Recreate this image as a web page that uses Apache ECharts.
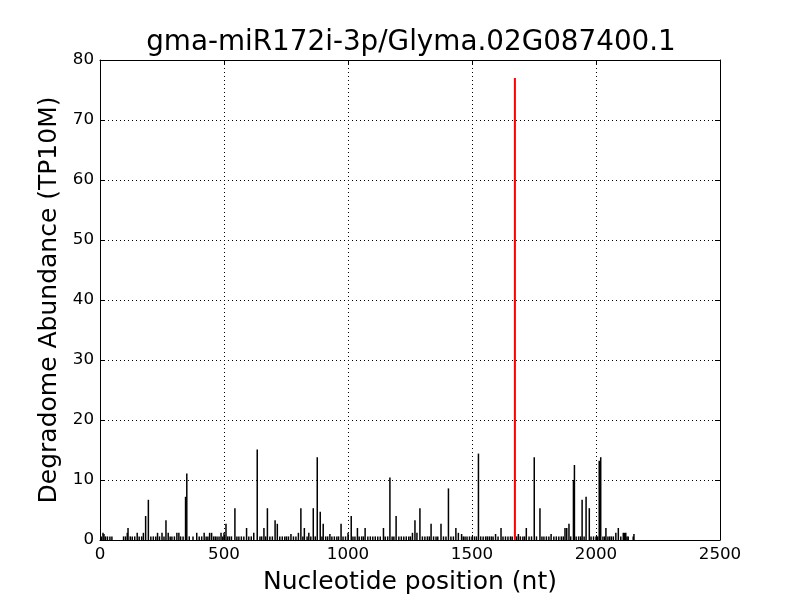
<!DOCTYPE html>
<html>
<head>
<meta charset="utf-8">
<script src="https://cdn.jsdelivr.net/npm/echarts@6/dist/echarts.min.js"></script>
<style>html,body{margin:0;padding:0;background:#fff}#c{width:800px;height:600px}</style>
</head>
<body>
<div id="c"></div>
<script>
const chartTitle = 'gma-miR172i-3p/Glyma.02G087400.1';
const xTicks = [0, 500, 1000, 1500, 2000, 2500];
const yTicks = [0, 10, 20, 30, 40, 50, 60, 70, 80];

// [position (nt), abundance (TP10M)] for the ordinary degradome peaks
const blackBars = [
  [5,0.6],[12,1.2],[16,1],[22,0.6],[30,0.6],[40,0.6],[48,0.6],
  [95,0.6],[103,0.6],[110,1.2],[113,2],[122,0.6],[130,0.6],[140,0.6],[150,1.2],[158,0.6],[168,0.6],[175,1.2],
  [184,4],[195,6.7],[205,0.6],[215,0.6],[225,0.6],[232,1.2],[240,0.6],[250,1.2],[258,0.6],[266,3.3],[275,1.2],
  [283,0.6],[290,0.6],[300,0.6],[310,1.2],[318,1.2],[325,0.6],[335,0.6],[345,7.2],[350,11.1],[360,0.6],
  [375,0.6],[390,1.2],[400,0.6],[410,0.6],[420,1.2],[428,0.6],[435,0.6],[442,1.2],[450,1.2],[458,0.6],
  [465,0.6],[472,0.6],[480,0.6],[488,1.2],[495,0.6],[500,1.2],[508,2.7],[515,0.6],[522,0.6],[530,0.6],
  [544,5.3],[552,0.6],[560,0.6],[570,0.6],[580,0.6],[591,2],[600,0.6],[610,0.6],[620,1.2],[634,15.1],
  [645,0.6],[652,0.6],[661,2],[668,0.6],[675,5.3],[685,0.6],[695,0.6],[706,3.3],[715,2.7],[725,0.6],
  [735,0.6],[745,0.6],[752,0.6],[760,0.6],[770,1],[780,0.6],[790,0.6],[800,1.2],[810,5.3],[818,0.6],
  [824,2],[835,0.6],[842,1.2],[850,0.6],[860,5.3],[868,0.6],[876,13.8],[888,4.7],[895,0.6],[900,2.7],
  [910,0.6],[918,0.6],[927,1],[935,0.6],[945,0.6],[955,0.6],[962,0.6],[972,2.7],[980,0.6],[990,0.6],
  [1000,1.2],[1013,4],[1020,0.6],[1028,0.6],[1038,2],[1045,0.6],[1055,0.6],[1062,0.6],[1069,2],[1080,0.6],
  [1090,0.6],[1100,0.6],[1110,0.6],[1120,0.6],[1130,0.6],[1143,2],[1150,0.6],[1160,0.6],[1169,10.4],
  [1178,0.6],[1185,0.6],[1194,4],[1205,0.6],[1215,0.6],[1225,0.6],[1235,0.6],[1245,0.6],[1252,0.6],
  [1260,1.2],[1270,3.3],[1278,1.2],[1290,5.3],[1300,0.6],[1310,0.6],[1320,0.6],[1328,0.6],[1335,2.7],
  [1345,0.6],[1355,0.6],[1362,0.6],[1375,2.7],[1385,0.6],[1395,0.6],[1405,8.6],[1415,0.6],[1425,0.6],
  [1435,2],[1445,1.2],[1458,1],[1465,0.6],[1472,0.6],[1480,0.6],[1490,0.6],[1500,0.6],[1510,0.6],
  [1518,0.6],[1526,14.4],[1535,0.6],[1545,0.6],[1555,0.6],[1562,0.6],[1570,0.6],[1578,0.6],[1585,0.6],
  [1595,1],[1605,0.6],[1617,2],[1625,0.6],[1635,0.6],[1645,0.6],[1655,0.6],[1662,0.6],[1680,0.6],
  [1687,1],[1695,0.6],[1705,0.6],[1712,0.6],[1719,2],[1730,0.6],[1740,0.6],[1751,13.8],[1760,0.6],
  [1774,5.3],[1782,0.6],[1790,0.6],[1800,0.6],[1810,0.6],[1819,1],[1830,0.6],[1840,0.6],[1850,0.6],
  [1860,0.6],[1868,0.6],[1875,2],[1882,2],[1891,2.7],[1898,0.6],[1909,10],[1913,12.5],[1920,0.6],
  [1930,0.6],[1938,0.6],[1944,6.7],[1952,0.6],[1960,7.2],[1973,5.3],[1980,0.6],[1990,0.6],[2000,0.6],
  [2007,0.6],[2013,13.2],[2019,13.8],[2028,0.6],[2035,0.6],[2040,2],[2048,0.6],[2055,0.6],[2062,0.6],
  [2070,0.6],[2080,1.2],[2090,2],[2100,0.6],[2110,1.2],[2115,1.2],[2120,1.2],[2125,0.6],[2130,0.6],
  [2150,0.6],[2153,1]
];
// the cleavage-site peak
const redBars = [[1673, 77]];

const FONT = 'DejaVu Sans';

function vline(color, width) {
  return function (params, api) {
    const x = api.value(0), y = api.value(1);
    const p0 = api.coord([x, 0]);
    const p1 = api.coord([x, y]);
    return {
      type: 'line',
      shape: { x1: p0[0], y1: p0[1], x2: p1[0], y2: p1[1] },
      style: { stroke: color, lineWidth: width }
    };
  };
}

const chart = echarts.init(document.getElementById('c'));
const xmin = xTicks[0], xmax = xTicks[xTicks.length - 1];
const ymin = yTicks[0], ymax = yTicks[yTicks.length - 1];
const xInt = xTicks[1] - xTicks[0], yInt = yTicks[1] - yTicks[0];

const gridLine = { show: true, lineStyle: { color: '#000', type: [1, 3], width: 1 } };
const tickIn = { show: true, inside: true, length: 5, lineStyle: { color: '#000', width: 1 } };
const axisLine = { show: true, onZero: false, lineStyle: { color: '#000', width: 1 } };

chart.setOption({
  animation: false,
  backgroundColor: '#fff',
  title: {
    text: chartTitle,
    left: 406, top: 24, textAlign: 'center',
    textStyle: { fontFamily: FONT, fontSize: 27.8, fontWeight: 'normal', color: '#000' }
  },
  grid: { left: 100, right: 80, top: 60, bottom: 60 },
  xAxis: [{
    type: 'value', min: xmin, max: xmax, interval: xInt, position: 'bottom',
    name: 'Nucleotide position (nt)', nameLocation: 'middle', nameGap: 30,
    nameTextStyle: { fontFamily: FONT, fontSize: 25, color: '#000' },
    axisLine: axisLine, axisTick: tickIn, splitLine: gridLine,
    axisLabel: { fontFamily: FONT, fontSize: 16.7, color: '#000', margin: 6, formatter: v => String(v) }
  }, {
    type: 'value', min: xmin, max: xmax, interval: xInt, position: 'top',
    axisLine: axisLine, axisTick: tickIn, splitLine: { show: false }, axisLabel: { show: false }
  }],
  yAxis: [{
    type: 'value', min: ymin, max: ymax, interval: yInt, position: 'left',
    name: 'Degradome Abundance (TP10M)', nameLocation: 'middle', nameGap: 35,
    nameTextStyle: { fontFamily: FONT, fontSize: 25, color: '#000' },
    axisLine: axisLine, axisTick: tickIn, splitLine: gridLine,
    axisLabel: { fontFamily: FONT, fontSize: 16.7, color: '#000', margin: 6, formatter: v => String(v) }
  }, {
    type: 'value', min: ymin, max: ymax, interval: yInt, position: 'right',
    axisLine: axisLine, axisTick: tickIn, splitLine: { show: false }, axisLabel: { show: false }
  }],
  series: [{
    type: 'custom', xAxisIndex: 0, yAxisIndex: 0,
    renderItem: vline('#000', 1.5), data: blackBars, clip: true
  }, {
    type: 'custom', xAxisIndex: 0, yAxisIndex: 0,
    renderItem: vline('#ff0000', 2), data: redBars, clip: true
  }]
});
</script>
</body>
</html>
